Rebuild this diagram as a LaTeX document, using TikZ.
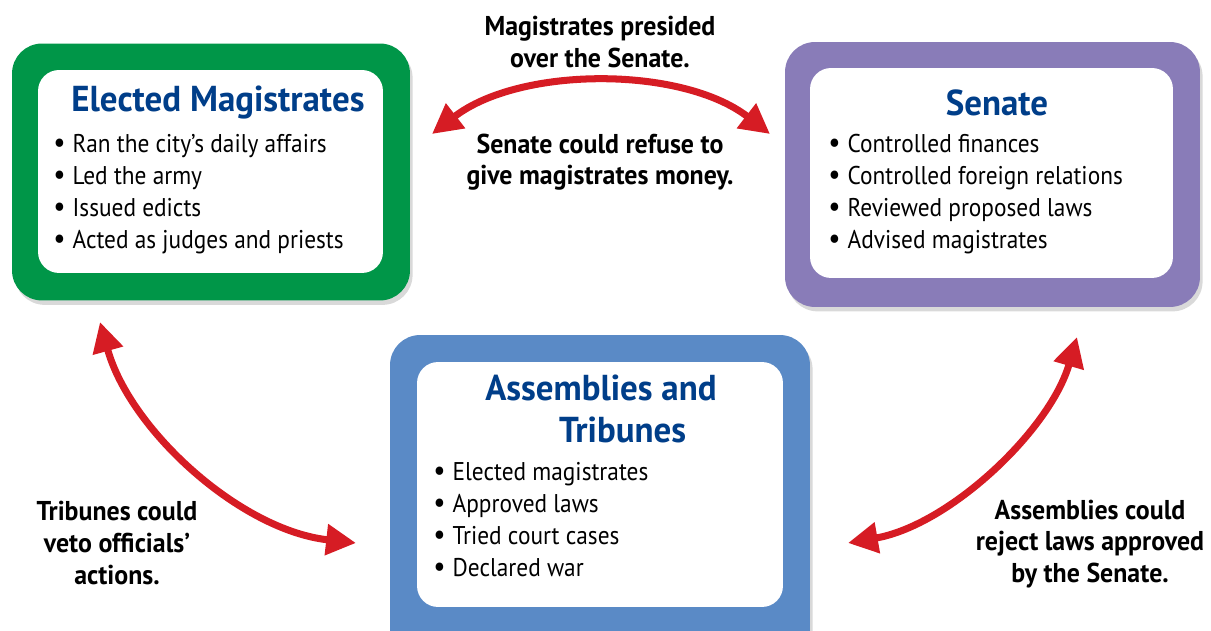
\documentclass[tikz,border=0pt]{standalone}
\usepackage{fontspec}
\setmainfont{PT Sans}
\newfontfamily\boxfont[FakeStretch=0.91]{PT Sans}
\newfontfamily\headfont[FakeStretch=0.97]{PT Sans}
\newfontfamily\notefont[FakeStretch=0.95]{PT Sans}
\usetikzlibrary{arrows.meta,shadows}
\usepackage{xcolor}
\definecolor{magGreen}{RGB}{0,150,72}
\definecolor{senPurple}{RGB}{137,124,184}
\definecolor{asmBlue}{RGB}{90,138,198}
\definecolor{titleBlue}{RGB}{0,62,137}
\definecolor{arrowRed}{RGB}{214,28,36}
\newcommand{\itm}{{\fontsize{17}{17}\selectfont\textbullet}\hspace{4pt}}

\tikzset{
	frame/.style={rounded corners=0.6cm, draw=none, inner sep=0pt,
		drop shadow={shadow xshift=1.5pt, shadow yshift=-2.5pt, opacity=0.3}},
	panel/.style={rounded corners=0.42cm, fill=white, draw=none, inner sep=0pt},
	boxtitle/.style={font=\headfont\bfseries\fontsize{20.5}{24}\selectfont, text=titleBlue, inner sep=0pt, align=center},
	bullets/.style={font=\boxfont\fontsize{14.6}{18.2}\selectfont, align=left, inner sep=0pt, anchor=north west},
	note/.style={font=\notefont\bfseries\fontsize{15.5}{18}\selectfont, align=center, inner sep=0pt},
	link/.style={arrowRed, line width=4pt,
		{Triangle[length=17pt,width=17pt]}-{Triangle[length=17pt,width=17pt]}}
}

\begin{document}
\begin{tikzpicture}[x=0.02cm, y=-0.02cm]
	\useasboundingbox (0,0) rectangle (1211,631);

	% Elected Magistrates
	\node[frame, fill=magGreen, minimum width=7.96cm, minimum height=5.14cm] (magOut) at (211,172) {};
	\node[panel, minimum width=6.9cm, minimum height=4.06cm] (magIn) at (210.5,171.5) {};
	\node[boxtitle] (magTitle) at (218,103) {Elected Magistrates};
	\node[bullets] (magList) at (53,134) {\itm Ran the city’s daily affairs\\ \itm Led the army\\ \itm Issued edicts\\ \itm Acted as judges and priests};

	% Senate
	\node[frame, fill=senPurple, minimum width=8.3cm, minimum height=5.3cm] (senOut) at (992.5,174.5) {};
	\node[panel, minimum width=7.26cm, minimum height=4.2cm] (senIn) at (991.5,173) {};
	\node[boxtitle] (senTitle) at (997,103) {Senate};
	\node[bullets] (senList) at (828,134) {\itm Controlled finances\\ \itm Controlled foreign relations\\ \itm Reviewed proposed laws\\ \itm Advised magistrates};

	% Assemblies and Tribunes
	\node[frame, fill=asmBlue, minimum width=8.4cm, minimum height=6.8cm] (asmOut) at (600,505) {};
	\node[panel, minimum width=7.32cm, minimum height=4.9cm] (asmIn) at (600,484.5) {};
	\node[boxtitle] (asmTitle) at (601,409) {Assemblies and\\\hspace*{1.2em}Tribunes};
	\node[bullets] (asmList) at (433,462) {\itm Elected magistrates\\ \itm Approved laws\\ \itm Tried court cases\\ \itm Declared war};

	% arrow ends
	\coordinate (magR) at (432,134);
	\coordinate (senL) at (770,134);
	\coordinate (magB) at (100,322);
	\coordinate (asmL) at (356,543);
	\coordinate (senB) at (1077,337);
	\coordinate (asmR) at (848,543);

	\draw[link] (magR) .. controls (520,66) and (682,66) .. (senL);
	\draw[link] (magB) .. controls (130,430) and (240,530) .. (asmL);
	\draw[link] (senB) .. controls (1050,430) and (950,525) .. (asmR);

	% labels
	\node[note] (presided) at (600,42) {Magistrates presided\\over the Senate.};
	\node[note] (refuse) at (600,162) {Senate could refuse to\\give magistrates money.};
	\node[note] (veto) at (117,543) {Tribunes could\\veto officials’\\actions.};
	\node[note] (reject) at (1090,544) {Assemblies could\\reject laws approved\\by the Senate.};

\end{tikzpicture}
\end{document}
